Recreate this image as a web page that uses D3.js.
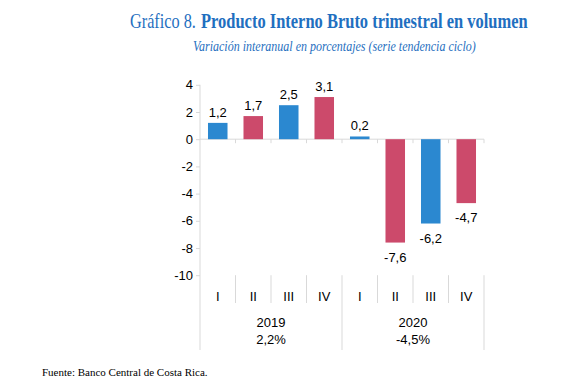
<!DOCTYPE html>
<html>
<head>
<meta charset="utf-8">
<script src="https://cdn.jsdelivr.net/npm/d3@7"></script>
<style>
body { margin: 0; background: #fff; }
svg text { font-family: "Liberation Sans Narrow", "Arial Narrow", "Liberation Sans", Arial, sans-serif; }
</style>
</head>
<body>
<svg width="571" height="384"></svg>
<script>
// data
var quarters = ["I", "II", "III", "IV", "I", "II", "III", "IV"];
var years = ["2019", "2020"];
var yearTotals = ["2,2%", "-4,5%"];
var values = [1.2, 1.7, 2.5, 3.1, 0.2, -7.6, -6.2, -4.7];
var yTicks = [4, 2, 0, -2, -4, -6, -8, -10];

var blue = "#2b88d0", red = "#cc4a6b", axisColor = "#d9d9d9";

var svg = d3.select("svg");
var plotLeft = 200, plotRight = 484, plotTop = 84.8, plotBottom = 275.2;

// comma decimals, plain hyphen for negatives
function fmt(d) {
    return String(d).replace(".", ",");
}
function fmt1(d) {
    return d.toFixed(1).replace(".", ",");
}

// squeeze a text horizontally to a given width (the source uses condensed type)
function squeeze(sel, x, y, w) {
    var natural = sel.node().getComputedTextLength();
    sel.attr("transform", "translate(" + x + "," + y + ") scale(" + (w / natural) + ",1)");
}

var xScale = d3.scaleBand()
        .domain(d3.range(values.length))
        .range([plotLeft, plotRight])
        .paddingInner(0.45)
        .paddingOuter(0.225);
var yScale = d3.scaleLinear()
        .domain([-10, 4])
        .range([plotBottom, plotTop]);
var step = (plotRight - plotLeft) / values.length;

// title
var t1 = svg.append("text")
        .style("font-family", "'Liberation Serif', 'Times New Roman', serif")
        .style("font-size", "21px")
        .attr("fill", "#1f6fc0")
        .text("Gráfico 8.");
squeeze(t1, 130, 28, 66);
var t2 = svg.append("text")
        .style("font-family", "'Liberation Serif', 'Times New Roman', serif")
        .style("font-size", "21px")
        .style("font-weight", "bold")
        .attr("fill", "#1f6fc0")
        .text("Producto Interno Bruto trimestral en volumen");
squeeze(t2, 201, 28, 327);
var t3 = svg.append("text")
        .style("font-family", "'Liberation Serif', 'Times New Roman', serif")
        .style("font-style", "italic")
        .style("font-size", "14px")
        .attr("fill", "#1f6fc0")
        .text("Variación interanual en porcentajes (serie tendencia ciclo)");
squeeze(t3, 193, 51, 283);

// y axis
var yAxis = d3.axisLeft(yScale).tickValues(yTicks).tickSize(4).tickPadding(3).tickFormat(fmt);
var gY = svg.append("g")
        .attr("transform", "translate(" + plotLeft + ",0)")
        .call(yAxis);
gY.select(".domain").remove();
gY.selectAll(".tick line").attr("stroke", axisColor);
gY.selectAll(".tick text").style("font-size", "13px").attr("fill", "#000");
svg.append("line")
        .attr("x1", plotLeft).attr("x2", plotLeft)
        .attr("y1", plotTop).attr("y2", 350)
        .attr("stroke", axisColor);

// zero line
svg.append("line")
        .attr("x1", plotLeft).attr("x2", plotRight)
        .attr("y1", yScale(0)).attr("y2", yScale(0))
        .attr("stroke", axisColor);

// ticks below zero line and separators
for (var i = 1; i <= values.length; i++) {
    var bx = plotLeft + i * step;
    svg.append("line")
            .attr("x1", bx).attr("x2", bx)
            .attr("y1", yScale(0)).attr("y2", yScale(0) + 4)
            .attr("stroke", axisColor);
    var isYear = (i % 4 === 0);
    svg.append("line")
            .attr("x1", bx).attr("x2", bx)
            .attr("y1", plotBottom).attr("y2", isYear ? 350 : 303)
            .attr("stroke", axisColor);
}

// bars
svg.selectAll("rect.bar")
        .data(values)
        .enter()
        .append("rect")
        .attr("class", "bar")
        .attr("x", function (d, i) { return xScale(i); })
        .attr("width", xScale.bandwidth())
        .attr("y", function (d) { return yScale(Math.max(0, d)); })
        .attr("height", function (d) { return Math.max(1.5, Math.abs(yScale(d) - yScale(0))); })
        .attr("fill", function (d, i) { return i % 2 === 0 ? blue : red; });

// value labels
svg.selectAll("text.val")
        .data(values)
        .enter()
        .append("text")
        .attr("class", "val")
        .attr("x", function (d, i) { return xScale(i) + xScale.bandwidth() / 2; })
        .attr("y", function (d) { return d >= 0 ? yScale(d) - 6 : yScale(d) + 19; })
        .attr("text-anchor", "middle")
        .style("font-size", "13px")
        .text(fmt1);

// quarter labels
svg.selectAll("text.q")
        .data(quarters)
        .enter()
        .append("text")
        .attr("class", "q")
        .attr("x", function (d, i) { return plotLeft + (i + 0.5) * step; })
        .attr("y", 301)
        .attr("text-anchor", "middle")
        .style("font-size", "13px")
        .text(function (d) { return d; });

// year labels
years.forEach(function (y, j) {
    var cx = plotLeft + (j * 4 + 2) * step;
    svg.append("text").attr("x", cx).attr("y", 327)
            .attr("text-anchor", "middle").style("font-size", "13px").text(y);
    svg.append("text").attr("x", cx).attr("y", 344)
            .attr("text-anchor", "middle").style("font-size", "13px").text(yearTotals[j]);
});

// source
svg.append("text")
        .attr("x", 42).attr("y", 376)
        .style("font-family", "'Liberation Serif', 'Times New Roman', serif")
        .style("font-size", "11px")
        .text("Fuente: Banco Central de Costa Rica.");
</script>
</body>
</html>
